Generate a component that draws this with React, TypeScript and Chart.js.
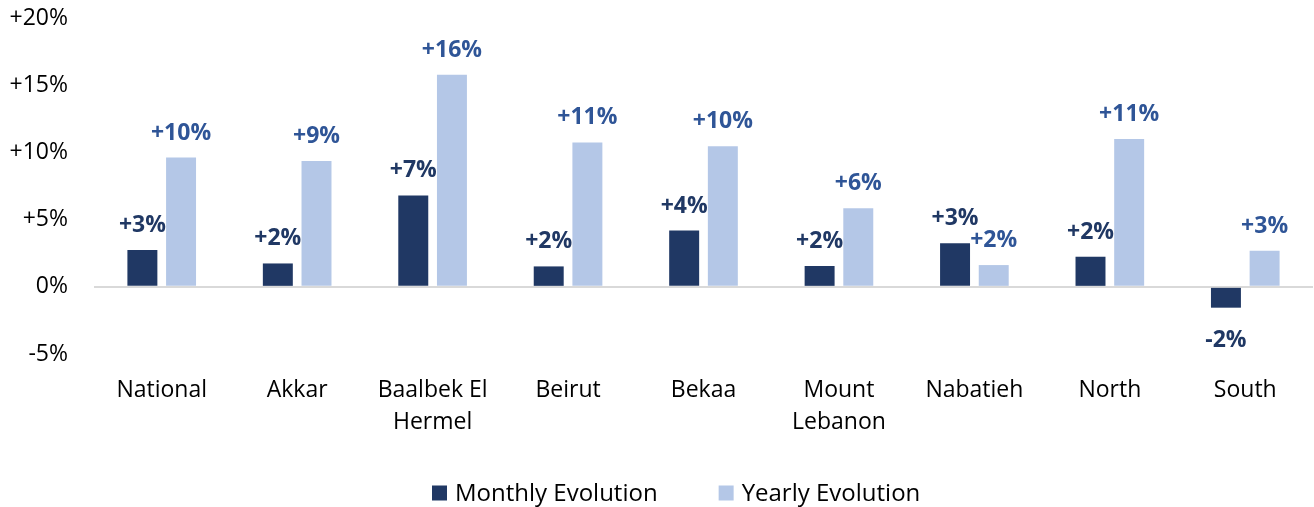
import React, { useEffect, useRef } from 'react';
import { Chart, registerables } from 'chart.js';

Chart.register(...registerables);

const FONT = "'Open Sans', sans-serif";

const categories: (string | string[])[] = [
  'National',
  'Akkar',
  ['Baalbek El', 'Hermel'],
  'Beirut',
  'Bekaa',
  ['Mount', 'Lebanon'],
  'Nabatieh',
  'North',
  'South',
];

const seriesNames = ['Monthly Evolution', 'Yearly Evolution'];
const monthly = [2.74, 1.74, 6.8, 1.52, 4.19, 1.55, 3.24, 2.24, -1.55];
const yearly = [9.62, 9.37, 15.77, 10.74, 10.46, 5.85, 1.62, 10.99, 2.69];

const barColors = ['#203864', '#B4C7E7'];
const labelColors = ['#203864', '#2F5597'];

const yMin = -5;
const yMax = 20;
const yStep = 5;

function fmtLabel(v: number): string {
  const r = Math.round(Math.abs(v));
  return (v < 0 ? '-' : '+') + r + '%';
}

function fmtTick(v: number): string {
  if (v > 0) return '+' + v + '%';
  return v + '%';
}

export default function App() {
  const ref = useRef<HTMLCanvasElement>(null);

  useEffect(() => {
    if (!ref.current) return;

    const barLabels = {
      id: 'barLabels',
      afterDatasetsDraw(chart: any) {
        const ctx = chart.ctx;
        ctx.save();
        ctx.font = `bold 23px ${FONT}`;
        ctx.textAlign = 'center';
        ctx.textBaseline = 'alphabetic';
        chart.data.datasets.forEach((ds: any, i: number) => {
          const meta = chart.getDatasetMeta(i);
          ctx.fillStyle = labelColors[i];
          meta.data.forEach((el: any, j: number) => {
            const v = ds.data[j] as number;
            const y = v >= 0 ? el.y - 18 : el.y + 39;
            ctx.fillText(fmtLabel(v), el.x, y);
          });
        });
        ctx.restore();
      },
    };

    const customLegend = {
      id: 'customLegend',
      afterDraw(chart: any) {
        const ctx = chart.ctx;
        ctx.save();
        ctx.font = `24px ${FONT}`;
        ctx.textBaseline = 'middle';
        ctx.textAlign = 'left';
        const box = 15;
        const gap = 8;
        const itemGap = 61;
        const widths = seriesNames.map((n) => ctx.measureText(n).width);
        let x = 432;
        const cy = 493;
        seriesNames.forEach((n, i) => {
          ctx.fillStyle = barColors[i];
          ctx.fillRect(x, cy - box / 2, box, box);
          x += box + gap;
          ctx.fillStyle = '#000000';
          ctx.fillText(n, x, cy + 1);
          x += widths[i] + itemGap;
        });
        ctx.restore();
      },
    };

    const chart = new Chart(ref.current, {
      type: 'bar',
      data: {
        labels: categories,
        datasets: [
          {
            label: seriesNames[0],
            data: monthly,
            backgroundColor: barColors[0],
            categoryPercentage: 0.571,
            barPercentage: 0.775,
          },
          {
            label: seriesNames[1],
            data: yearly,
            backgroundColor: barColors[1],
            categoryPercentage: 0.571,
            barPercentage: 0.775,
          },
        ],
      },
      options: {
        responsive: false,
        animation: false,
        layout: { padding: { top: 18, left: 0, right: 1, bottom: 49 } },
        plugins: {
          legend: { display: false },
          tooltip: { enabled: false },
          title: { display: false },
        },
        scales: {
          x: {
            grid: { display: false, drawTicks: false },
            border: { display: false },
            ticks: {
              padding: 20,
              color: '#000000',
              font: { family: FONT, size: 23, lineHeight: 1.39 },
              maxRotation: 0,
              autoSkip: false,
            },
          },
          y: {
            min: yMin,
            max: yMax,
            afterFit(scale: any) {
              scale.width = 94;
              scale.paddingTop = 0;
              scale.paddingBottom = 0;
            },
            grid: {
              drawTicks: false,
              color: (c: any) => (c.tick && c.tick.value === 0 ? '#D9D9D9' : 'rgba(0,0,0,0)'),
              lineWidth: 2,
            },
            border: { display: false },
            ticks: {
              stepSize: yStep,
              padding: 26,
              color: '#000000',
              font: { family: FONT, size: 23 },
              callback: (v: any) => fmtTick(Number(v)),
            },
          },
        },
      },
      plugins: [barLabels, customLegend],
    });

    return () => chart.destroy();
  }, []);

  return (
    <div style={{ position: 'absolute', left: 0, top: 0, width: 1314, height: 507, background: '#ffffff' }}>
      <canvas ref={ref} width={1314} height={507} style={{ display: 'block' }} />
    </div>
  );
}
